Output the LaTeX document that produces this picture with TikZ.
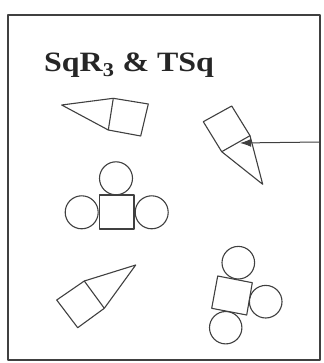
\documentclass[tikz,border=0pt]{standalone}
\usepackage{fontspec}
\setmainfont{Liberation Serif}
\usetikzlibrary{arrows.meta}
\begin{document}
\begin{tikzpicture}[x=1pt,y=-1pt,
  shp/.style={draw=black!75,line width=1.1pt,line join=round},
  ring/.style={draw=black!75,line width=1.1pt}]
\useasboundingbox (0,0) rectangle (323,363);
\fill[white] (0,0) rectangle (323,363);
% frame
\draw[shp] (8,15) coordinate (fTL) rectangle (320,360) coordinate (fBR);
% title
\node[anchor=base west,inner sep=0pt,xscale=1.14,font=\fontsize{28}{32}\selectfont\bfseries,text=black!85] (title) at (44,72) {SqR\textsubscript{3} \& TSq};
% top-left pencil
\draw[shp] (113.3,98.3) -- (148.3,104) -- (140.7,136) -- (108.3,130) -- cycle;
\draw[shp] (113.3,98.3) -- (61.7,105) -- (108.3,130);
% right pencil
\draw[shp] (203.3,121.7) -- (231.7,106) -- (250,135.7) -- (221.7,151.7) -- cycle;
\draw[shp] (250,135.7) -- (262.7,184.3) -- (221.7,151.7);
\coordinate (atip) at (240,143);
\coordinate (aend) at (320,142);
\draw[draw=black!75,line width=1pt,-{Latex[length=11pt,width=8pt]}] (aend) -- (atip);
% middle cluster
\draw[shp] (99.3,195) rectangle (134,229);
\draw[ring] (116,178.3) circle (16.5);
\draw[ring] (81.7,212.3) circle (16.5);
\draw[ring] (151.7,212.3) circle (16.5);
% bottom-left pencil
\draw[shp] (56.7,300) -- (84.3,281) -- (104.3,308.3) -- (77.7,327.7) -- cycle;
\draw[shp] (84.3,281) -- (135.7,265) -- (104.3,308.3);
% bottom-right cluster
\draw[shp] (217.7,276) -- (252.3,282.7) -- (246.7,315) -- (211.7,308.3) -- cycle;
\draw[ring] (238.3,262.7) circle (16.3);
\draw[ring] (265.7,301.7) circle (16.3);
\draw[ring] (225.7,327.7) circle (16.2);
\end{tikzpicture}
\end{document}
